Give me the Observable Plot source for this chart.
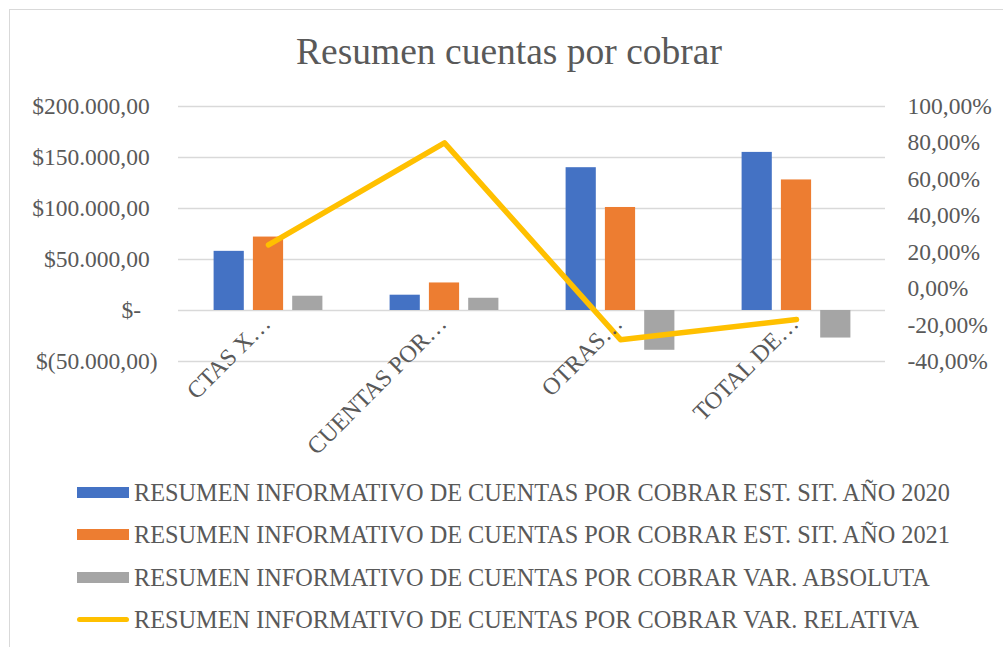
<!DOCTYPE html>
<html>
<head>
<meta charset="utf-8">
<script src="https://cdn.jsdelivr.net/npm/d3@7"></script>
<script src="https://cdn.jsdelivr.net/npm/@observablehq/plot@0.6"></script>
<style>
  html, body { margin: 0; padding: 0; background: #fff; }
  #wrap { position: relative; width: 1003px; height: 647px; overflow: hidden; font-family: "Liberation Serif", "Times New Roman", serif; color: #595959; }
  #frame { position: absolute; left: 9px; top: 9px; width: 1010px; height: 660px; border: 1px solid #d9d9d9; box-sizing: border-box; }
  #title { position: absolute; top: 33px; left: 0; width: 1018px; text-align: center; font-size: 37.5px; line-height: 37px; white-space: nowrap; }
  #chart { position: absolute; left: 0; top: 0; }
  #legend { position: absolute; left: 77px; top: 481px; }
  .row { display: flex; align-items: center; height: 23px; margin-bottom: 19.4px; font-size: 24.3px; line-height: 23px; white-space: nowrap; }
  .sw { width: 52px; height: 11px; margin-right: 5px; flex: none; }
  .ln { width: 52px; height: 5px; border-radius: 3px; margin-right: 5px; flex: none; }
</style>
</head>
<body>
<div id="wrap">
  <div id="frame"></div>
  <div id="title">Resumen cuentas por cobrar</div>
  <div id="chart"></div>
  <div id="legend"></div>
</div>
<script>
// ---- data ----
const categories = ["CTAS X…", "CUENTAS POR…", "OTRAS…", "TOTAL DE…"];
const est2020 = [58000, 15000, 140000, 155000];
const est2021 = [72000, 27000, 101000, 128000];
const varAbsoluta = [14000, 12000, -39000, -27000];
const varRelativa = [0.24, 0.80, -0.28, -0.17];
const leftTicks = [-50000, 0, 50000, 100000, 150000, 200000];
const rightTicks = [-0.4, -0.2, 0, 0.2, 0.4, 0.6, 0.8, 1.0];
const seriesNames = [
  "RESUMEN INFORMATIVO DE CUENTAS POR COBRAR EST. SIT. AÑO 2020",
  "RESUMEN INFORMATIVO DE CUENTAS POR COBRAR EST. SIT. AÑO 2021",
  "RESUMEN INFORMATIVO DE CUENTAS POR COBRAR VAR. ABSOLUTA",
  "RESUMEN INFORMATIVO DE CUENTAS POR COBRAR VAR. RELATIVA"
];
const colors = ["#4472C4", "#ED7D31", "#A5A5A5", "#FFC000"];

// ---- table ----
const rows = categories.map((c, i) => ({cat: c, a: est2020[i], b: est2021[i], abs: varAbsoluta[i], rel: varRelativa[i]}));

// secondary axis: percent domain [-0.4, 1.0] mapped onto primary domain [-50000, 200000]
const yDom = [-50000, 200000];
const pDom = [-0.4, 1.0];
const pctToY = p => yDom[0] + (p - pDom[0]) / (pDom[1] - pDom[0]) * (yDom[1] - yDom[0]);
const yToPct = y => pDom[0] + (y - yDom[0]) / (yDom[1] - yDom[0]) * (pDom[1] - pDom[0]);

const loc = d3.formatLocale({decimal: ",", thousands: ".", grouping: [3], currency: ["$", ""]});
const money = loc.format(",.2f");
const leftFmt = v => v === 0 ? "$-\u2002\u2009" : v < 0 ? "$(" + money(-v) + ")" : "$" + money(v) + "\u00A0\u200A";
const pctFmt = y => { const p = Math.round(yToPct(y) * 100) / 100; return (p * 100).toFixed(2).replace(".", ",") + "%"; };

const inset = 72.9;
const plot = Plot.plot({
  width: 1003,
  height: 470,
  marginLeft: 178,
  marginRight: 118,
  marginTop: 106,
  marginBottom: 109,
  style: {fontFamily: "'Liberation Serif', 'Times New Roman', serif", fontSize: "23.5px", color: "#595959", background: "transparent", overflow: "visible"},
  x: {type: "band", domain: categories, padding: 0, axis: null},
  y: {domain: yDom, axis: null},
  marks: [
    Plot.ruleY(leftTicks, {stroke: "#d9d9d9", strokeWidth: 1.3}),
    Plot.axisY(leftTicks, {anchor: "left", tickSize: 0, tickPadding: 21, tickFormat: leftFmt, fill: "#595959"}),
    Plot.axisY(rightTicks.map(pctToY), {anchor: "right", tickSize: 0, tickPadding: 22, tickFormat: pctFmt, fill: "#595959"}),
    Plot.barY(rows, {x: "cat", y: "a", fill: colors[0], dx: -39.3, insetLeft: inset, insetRight: inset}),
    Plot.barY(rows, {x: "cat", y: "b", fill: colors[1], insetLeft: inset, insetRight: inset}),
    Plot.barY(rows, {x: "cat", y: "abs", fill: colors[2], dx: 39.3, insetLeft: inset, insetRight: inset}),
    Plot.line(rows, {x: "cat", y: d => pctToY(d.rel), stroke: colors[3], strokeWidth: 5.5, strokeLinecap: "round", strokeLinejoin: "round"}),
    Plot.text(categories, {x: d => d, y: () => 0, text: d => d, rotate: -45, textAnchor: "end", lineAnchor: "middle", dx: -2, dy: 9, fill: "#595959", fontSize: 24})
  ]
});
document.getElementById("chart").appendChild(plot);

// ---- legend ----
const legend = document.getElementById("legend");
seriesNames.forEach((name, i) => {
  const row = document.createElement("div");
  row.className = "row";
  const sw = document.createElement("div");
  sw.className = i === 3 ? "ln" : "sw";
  sw.style.background = colors[i];
  const t = document.createElement("span");
  t.textContent = name;
  row.appendChild(sw);
  row.appendChild(t);
  legend.appendChild(row);
});
</script>
</body>
</html>
